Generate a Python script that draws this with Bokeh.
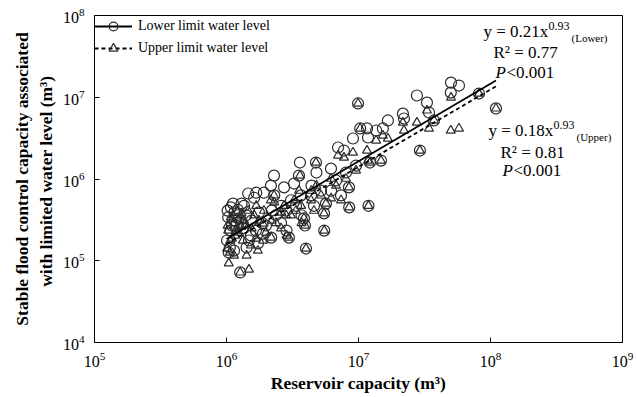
from bokeh.plotting import figure
from bokeh.models import Range1d, FixedTicker, Legend, LegendItem, Label, ColumnDataSource
from bokeh.embed import file_html
from bokeh.resources import INLINE

# Reservoir capacity (m3)
capacity = [
    5.02e7, 5.77e7, 5.0e7, 8.18e7, 1.10e8, 3.73e7, 2.92e7, 2.77e7, 3.30e7, 3.42e7,
    2.17e7, 2.21e7, 1.67e7, 9.92e6, 1.03e7, 1.16e7, 1.36e7, 1.53e7, 9.08e6, 1.18e7,
    7.0e6, 7.76e6, 1.22e7, 1.48e7, 8.47e6, 1.19e7, 8.5e6, 3.6e6, 4.76e6, 6.19e6,
    3.54e6, 4.8e6, 5.67e6, 5.48e6, 3.86e6, 5.5e6, 2.97e6, 4.0e6, 2.29e6, 2.17e6,
    2.73e6, 3.25e6, 1.62e6, 1.92e6, 1.27e6, 1.48e6, 1.04e6, 1.06e6, 1.14e6, 2.18e6,
    1.89e6, 3.93e6, 1.12e6, 1.36e6, 1.03e6, 1.02e6, 1.15e6, 1.20e6, 1.24e6, 1.16e6,
    1.29e6, 1.10e6, 1.41e6, 1.22e6, 1.07e6, 1.33e6, 1.88e6, 2.59e6, 1.73e6, 1.53e6,
    1.67e6, 1.99e6, 2.37e6, 2.83e6, 3.36e6, 4.37e6, 5.2e6, 6.76e6, 8.04e6, 9.58e6,
    6.2e6, 7.37e6, 3.67e6, 3.08e6, 2.2e6, 2.6e6, 4.4e6, 1.46e6, 1.68e6, 1.3e6,
    1.08e6, 1.18e6, 1.55e6, 1.76e6, 1.01e6, 1.42e6, 2.85e6, 3.7e6, 4.6e6, 2.3e6,
]
# Stable flood control capacity at the lower limit water level (m3)
lower_level = [
    1.51e7, 1.39e7, 1.14e7, 1.11e7, 7.3e6, 5.2e6, 2.23e6, 1.05e7, 8.6e6, 6.5e6,
    6.3e6, 5.5e6, 5.2e6, 8.4e6, 4.15e6, 4.15e6, 3.92e6, 4.15e6, 3.13e6, 3.22e6,
    2.43e6, 2.23e6, 1.59e6, 1.68e6, 7.9e5, 4.7e5, 4.5e5, 1.59e6, 1.59e6, 1.34e6,
    1.1e6, 1.2e6, 5.0e5, 3.8e5, 3.3e5, 2.34e5, 1.92e5, 1.41e5, 1.1e6, 8.3e5,
    7.9e5, 8.8e5, 5.9e5, 6.8e5, 7.2e4, 1.77e5, 1.26e5, 1.45e5, 1.33e5, 1.92e5,
    2.15e5, 2.7e5, 5.0e5, 4.7e5, 3.4e5, 4.1e5, 3.9e5, 3.6e5, 3.3e5, 3.1e5,
    2.9e5, 2.7e5, 3.6e5, 4.2e5, 2.34e5, 2.5e5, 2.86e5, 2.9e5, 1.63e5, 2.04e5,
    2.34e5, 2.7e5, 3.6e5, 4.1e5, 4.7e5, 6.3e5, 7.2e5, 9.6e5, 1.2e6, 1.46e6,
    7.2e5, 6.3e5, 6.3e5, 5.5e5, 4.1e5, 4.7e5, 8.3e5, 6.65e5, 6.8e5, 5.0e5,
    4.5e5, 2.7e5, 3.1e5, 3.9e5, 1.77e5, 1.45e5, 2.34e5, 3.6e5, 4.7e5, 6.3e5,
]
# Stable flood control capacity at the upper limit water level (m3)
upper_level = [
    9.9e6, 4.15e6, 3.92e6, 1.11e7, 7.3e6, 5.2e6, 2.23e6, 4.9e6, 6.9e6, 4.15e6,
    4.9e6, 3.92e6, 3.13e6, 8.4e6, 4.15e6, 2.23e6, 2.96e6, 3.4e6, 2.11e6, 1.68e6,
    1.94e6, 1.83e6, 1.59e6, 1.68e6, 7.9e5, 4.7e5, 4.5e5, 1.1e6, 1.59e6, 1.01e6,
    7.2e5, 8.3e5, 5.0e5, 3.8e5, 3.3e5, 2.34e5, 1.92e5, 1.41e5, 6.3e5, 5.5e5,
    4.7e5, 5.5e5, 3.6e5, 4.1e5, 7.2e4, 7.8e4, 9.3e4, 1.26e5, 1.16e5, 1.92e5,
    1.77e5, 2.7e5, 3.6e5, 3.1e5, 2.34e5, 2.7e5, 2.9e5, 2.5e5, 2.22e5, 2.04e5,
    2.6e5, 1.87e5, 2.7e5, 3.2e5, 1.77e5, 1.77e5, 2.86e5, 2.5e5, 1.33e5, 1.54e5,
    1.87e5, 2.22e5, 2.9e5, 3.6e5, 4.1e5, 5.5e5, 6.3e5, 8.3e5, 1.01e6, 1.27e6,
    5.8e5, 5.5e5, 4.7e5, 3.6e5, 3.1e5, 3.9e5, 7.2e5, 4.1e5, 4.7e5, 3.8e5,
    3.4e5, 2.34e5, 2.5e5, 3.1e5, 1.41e5, 1.16e5, 2.04e5, 2.9e5, 4.1e5, 5.2e5,
]

# Fitted power-law lines as drawn (end points)
fit_x = [1.0e6, 1.1e8]
fit_lower = [1.85e5, 1.6e7]
fit_upper = [1.6e5, 1.36e7]

x_ticks = [1e5, 1e6, 1e7, 1e8, 1e9]
y_ticks = [1e4, 1e5, 1e6, 1e7, 1e8]

SERIF = "Liberation Serif"
INK = "#2b2b2b"

p = figure(width=637, height=397, x_axis_type="log", y_axis_type="log",
           x_range=Range1d(1e5, 1e9), y_range=Range1d(1e4, 1e8),
           output_backend="svg", toolbar_location=None,
           min_border_left=94, min_border_right=15, min_border_top=15, min_border_bottom=55)
p.grid.visible = False
p.outline_line_color = "black"
p.outline_line_width = 1
p.outline_line_alpha = 1
p.background_fill_color = "white"
p.border_fill_color = "white"

p.xaxis.ticker = FixedTicker(ticks=x_ticks)
p.yaxis.ticker = FixedTicker(ticks=y_ticks)
for ax in (p.xaxis, p.yaxis):
    ax.axis_line_color = None
    ax.major_tick_in = 5
    ax.major_tick_out = 0
    ax.major_tick_line_color = "black"
    ax.minor_tick_line_color = None
    ax.major_label_text_font = SERIF
    ax.major_label_text_font_size = "16px"
    ax.major_label_text_color = "black"
    ax.axis_label_text_font = SERIF
    ax.axis_label_text_font_style = "bold"
    ax.axis_label_text_font_size = "17.5px"
    ax.axis_label_text_color = "black"
p.xaxis.major_label_standoff = 9
p.yaxis.major_label_standoff = 10
p.xaxis.axis_label = "Reservoir capacity (m\u00b3)"
p.xaxis.axis_label_standoff = 3
p.yaxis.axis_label = "Stable flood control capacity associated\nwith limited water level  (m\u00b3)"
p.yaxis.axis_label_standoff = 4

src = ColumnDataSource(dict(x=capacity, lo=lower_level, up=upper_level))
sc_lo = p.scatter("x", "lo", source=src, marker="circle", size=11, fill_color=None,
                  line_color=INK, line_width=1.2)
sc_up = p.scatter("x", "up", source=src, marker="triangle", size=9, fill_color=None,
                  line_color=INK, line_width=1.2)
ln_lo = p.line(fit_x, fit_lower, line_color="black", line_width=1.8)
ln_up = p.line(fit_x, fit_upper, line_color="black", line_width=1.8, line_dash="4 3")

legend = Legend(items=[
    LegendItem(label="Lower limit water level", renderers=[ln_lo, sc_lo]),
    LegendItem(label="Upper limit water level", renderers=[ln_up, sc_up]),
], location="top_left", border_line_color=None, background_fill_alpha=0,
    margin=0, padding=6, glyph_width=38, glyph_height=22, label_height=22,
    spacing=-5, label_standoff=6, label_text_font=SERIF, label_text_font_size="14px",
    label_text_color="black")
p.add_layout(legend)


def lab(x, y, text, size="17px", style="normal"):
    p.add_layout(Label(x=x, y=y, x_units="screen", y_units="screen", text=text,
                       text_font=SERIF, text_font_size=size, text_font_style=style,
                       text_color="black", text_baseline="middle", text_align="left"))


# Lower-limit equation
lab(389, 311, "y = 0.21x")
lab(454, 317, "0.93", "12px")
lab(477, 305, "(Lower)", "11px")
lab(399, 290, "R\u00b2 = 0.77")
lab(401, 270, "P", style="italic")
lab(412, 270, "<0.001")
# Upper-limit equation
lab(394, 212, "y = 0.18x")
lab(459, 218, "0.93", "12px")
lab(482, 206, "(Upper)", "11px")
lab(406, 190, "R\u00b2 = 0.81")
lab(408, 172, "P", style="italic")
lab(419, 172, "<0.001")

open("out.html", "w").write(file_html(p, INLINE))
